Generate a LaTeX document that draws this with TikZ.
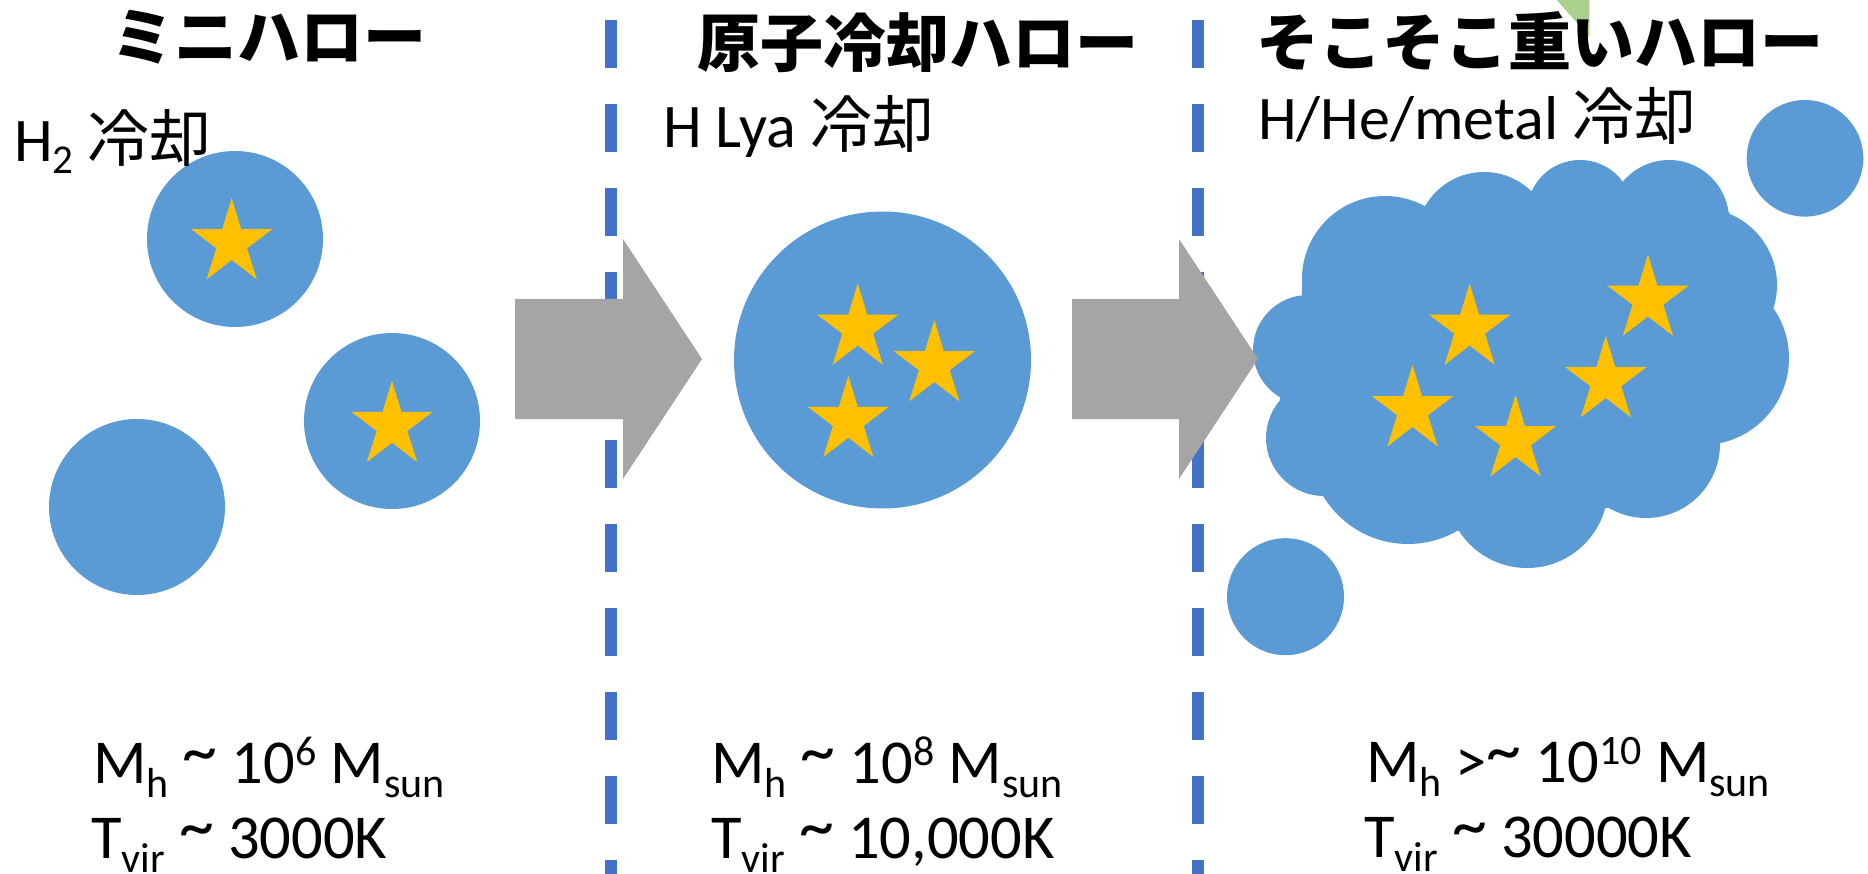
\documentclass[tikz,border=0pt]{standalone}
\usepackage{fontspec}
\setmainfont{Carlito}
\newfontfamily\jpfont{Noto Sans CJK JP}
\definecolor{halo}{HTML}{5B9BD5}
\definecolor{starc}{HTML}{FFC000}
\definecolor{arrowc}{HTML}{A5A5A5}
\definecolor{dashc}{HTML}{4472C4}
\definecolor{greenc}{HTML}{A9D18E}
\newcommand{\lsub}[1]{\raisebox{-14pt}{\fontsize{42}{42}\selectfont #1}}
\newcommand{\lsup}[1]{\raisebox{18pt}{\fontsize{42}{42}\selectfont #1}}
\newcommand{\hsub}[1]{\raisebox{-12pt}{\fontsize{41}{41}\selectfont #1}}
\newcommand{\tld}{\raisebox{9pt}{\fontsize{70}{70}\selectfont\char"7E}}
\tikzset{
  halofill/.style={fill=halo},
  dashline/.style={draw=dashc,line width=12pt,dash pattern=on 47.7pt off 36.3pt},
  blockarrow/.style={fill=arrowc},
  titletext/.style={anchor=base,inner sep=0pt,font=\fontsize{63}{63}\selectfont\jpfont\bfseries},
  subtext/.style={anchor=base west,inner sep=0pt,font=\fontsize{62}{62}\selectfont},
  massline/.style={anchor=base west,inner sep=0pt,font=\fontsize{62.5}{62.5}\selectfont},
  ppstar/.pic={\fill[starc,xscale=0.951] (90:45pt) -- (126:17pt) -- (162:45pt) -- (198:17pt) -- (234:45pt) -- (270:17pt) -- (306:45pt) -- (342:17pt) -- (18:45pt) -- (54:17pt) -- cycle;}
}
\begin{document}
\begin{tikzpicture}[x=1pt,y=-1pt]
\useasboundingbox (0,0) rectangle (1868,874);
% green corner
\fill[greenc] (1556.7,0) -- (1589.3,0) -- (1589.3,36.7) -- cycle;
% separators
\draw[dashline] (611,20) -- (611,874);
\draw[dashline] (1198,20) -- (1198,874);
% mini haloes
\fill[halofill] (235,239) circle[radius=88pt];
\fill[halofill] (392,421) circle[radius=88pt];
\fill[halofill] (137,507) circle[radius=88pt];
% atomic cooling halo
\fill[halofill] (882.5,360) circle[radius=148.5pt];
% cloud
\fill[halofill] (1301.9,295.7) -- (1279.8,400) -- (1321.8,494.3) -- (1458.5,530.7) -- (1607.7,507.7) -- (1717.2,444.3) -- (1772.7,305) -- (1728.7,211.7) -- (1623.4,182.3) -- (1532.3,191) -- (1427.5,207.3) -- (1301.9,283.3) -- cycle;
\fill[halofill] (1308,350) circle[radius=55pt];
\fill[halofill] (1324,438) circle[radius=58pt];
\fill[halofill] (1408,445) circle[radius=99pt];
\fill[halofill] (1527,487) circle[radius=81pt];
\fill[halofill] (1646,444) circle[radius=74pt];
\fill[halofill] (1702,358) circle[radius=87pt];
\fill[halofill] (1700,285) circle[radius=77pt];
\fill[halofill] (1669,220) circle[radius=60pt];
\fill[halofill] (1580,213) circle[radius=53pt];
\fill[halofill] (1484,240) circle[radius=68pt];
\fill[halofill] (1385,279) circle[radius=83pt];
% small satellites
\fill[halofill] (1805,158.3) circle[radius=58.3pt];
\fill[halofill] (1285.5,596.7) circle[radius=58.5pt];
% arrows
\fill[blockarrow] (515,299) -- (623,299) -- (623,239) -- (702,359) -- (623,479) -- (623,419) -- (515,419) -- cycle;
\fill[blockarrow] (1072,299) -- (1179,299) -- (1179,239) -- (1258,359) -- (1179,479) -- (1179,419) -- (1072,419) -- cycle;
% stars
\pic at (231.7,243) {ppstar};
\pic at (392,425.7) {ppstar};
\pic at (857.7,328.5) {ppstar};
\pic at (934.3,365) {ppstar};
\pic at (848.3,420.7) {ppstar};
\pic at (1469.6,328.5) {ppstar};
\pic at (1647.9,299.5) {ppstar};
\pic at (1605.8,381) {ppstar};
\pic at (1412.5,410) {ppstar};
\pic at (1515.5,440) {ppstar};
% titles
\node[titletext] (t1) at (269,61) {ミニハロー};
\node[titletext] (t2) at (917.5,67) {原子冷却ハロー};
\node[titletext] (t3) at (1540,66) {そこそこ重いハロー};
% cooling labels
\node[subtext] (c1) at (14,162) {H\hsub{2} {\jpfont 冷却}};
\node[subtext] (c2) at (663,148) {H Lya {\jpfont 冷却}};
\node[subtext] (c3) at (1258,140) {H/He/metal {\jpfont 冷却}};
% mass / temperature
\node[massline] (m1) at (93,783) {M\lsub{h} \tld{} 10\lsup{6} M\lsub{sun}};
\node[massline] (v1) at (91,858) {T\lsub{vir} \tld{} 3000K};
\node[massline] (m2) at (711,783) {M\lsub{h} \tld{} 10\lsup{8} M\lsub{sun}};
\node[massline] (v2) at (711,858) {T\lsub{vir} \tld{} 10,000K};
\node[massline] (m3) at (1366,782) {M\lsub{h} >\tld{} 10\lsup{10} M\lsub{sun}};
\node[massline] (v3) at (1364,857) {T\lsub{vir} \tld{} 30000K};
\end{tikzpicture}
\end{document}
